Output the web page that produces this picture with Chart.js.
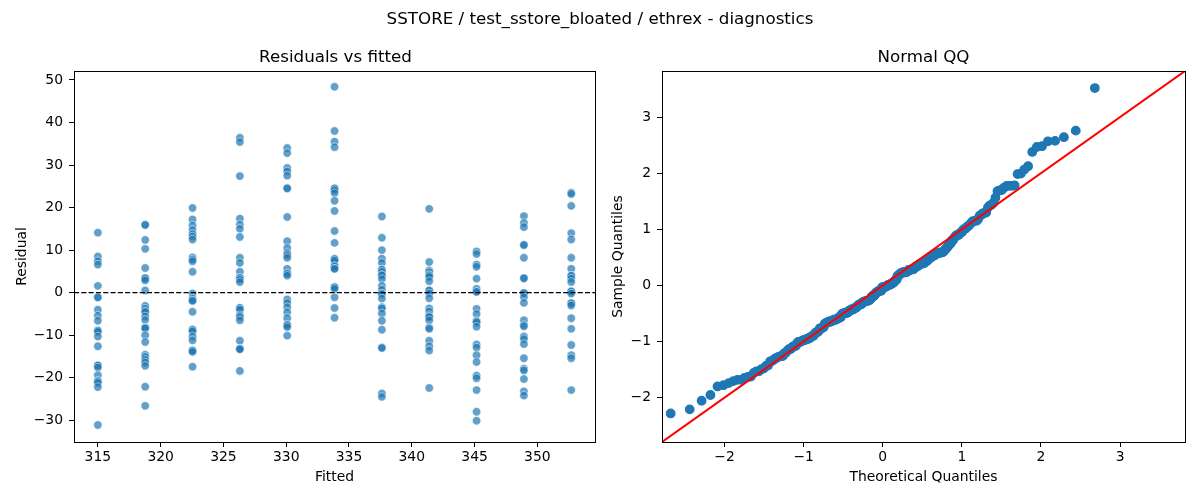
<!DOCTYPE html>
<html>
<head>
<meta charset="utf-8">
<title>SSTORE / test_sstore_bloated / ethrex - diagnostics</title>
<script src="https://cdn.jsdelivr.net/npm/chart.js@4.4.1/dist/chart.umd.min.js"></script>
<style>
  body { margin: 0; background: #fff; }
  #fig { position: relative; width: 1200px; height: 500px; overflow: hidden; font-family: "DejaVu Sans", sans-serif; }
  #fig canvas { position: absolute; top: 0; width: 600px; height: 500px; }
  .txt { position: absolute; color: #000; white-space: nowrap; transform: translate(-50%, -50%); font-size: 16.7px; }
</style>
</head>
<body>
<div id="fig">
  <canvas id="resid" width="600" height="500" style="left:0"></canvas>
  <canvas id="qq" width="600" height="500" style="left:600px"></canvas>
  <div class="txt" style="left:600px; top:18px">SSTORE / test_sstore_bloated / ethrex - diagnostics</div>
  <div class="txt" style="left:335.5px; top:56px">Residuals vs fitted</div>
  <div class="txt" style="left:923.5px; top:56px">Normal QQ</div>
</div>
<script>
// fitted value of each column of points
const fittedValues = [315.0, 318.77, 322.54, 326.31, 330.08, 333.85, 337.62, 341.39, 345.16, 348.93, 352.7];

// residuals, one list per fitted value
// (repeated values = markers that sit on top of each other)
const residualGroups = [
    [14.1, 8.5, 7.4, 6.6, 1.6, -1.1, -1.1, -4.0, -5.4, -6.6, -8.9, -8.9, -9.2, -10.3, -12.6, -17.1, -17.1, -17.6, -19.4, -20.8, -20.8, -21.2, -22.2, -31.1],
    [16.0, 15.9, 12.4, 10.3, 5.8, 3.4, 3.4, 2.9, 0.5, -3.1, -3.8, -4.5, -4.5, -5.6, -6.4, -8.2, -8.2, -8.4, -10.0, -11.6, -14.6, -15.1, -15.8, -16.4, -17.2, -22.1, -26.6],
    [19.9, 17.2, 15.8, 14.7, 13.8, 13.2, 12.5, 8.3, 7.8, 7.4, 4.9, -0.2, -1.4, -1.9, -1.9, -4.5, -8.7, -8.7, -9.1, -10.3, -11.2, -13.6, -13.6, -13.9, -17.4],
    [36.4, 35.4, 27.4, 17.4, 16.0, 15.0, 13.1, 8.2, 7.0, 4.9, 3.5, 3.5, 3.1, 2.5, -3.6, -3.6, -4.0, -5.3, -5.7, -6.5, -11.3, -13.2, -13.2, -13.3, -18.4],
    [34.0, 32.8, 29.3, 28.5, 27.5, 24.6, 24.5, 17.8, 12.1, 10.5, 9.3, 8.8, 8.2, 5.6, 4.5, 4.5, 4.0, -1.6, -2.4, -3.4, -4.6, -6.0, -7.6, -7.6, -8.1, -10.1],
    [48.4, 38.0, 35.5, 34.2, 24.5, 24.5, 24.1, 23.4, 21.6, 19.2, 14.5, 11.7, 7.9, 7.9, 7.5, 6.2, 6.2, 5.6, 5.6, 1.3, 1.3, 0.9, -1.1, -3.6, -5.9],
    [17.9, 12.9, 10.0, 8.0, 7.0, 5.4, 5.4, 4.9, 4.1, 4.1, 3.2, 1.6, 0.7, -0.3, -0.3, -1.4, -3.4, -3.7, -4.9, -6.6, -8.7, -12.9, -13.0, -23.7, -24.5],
    [19.7, 7.2, 5.2, 4.8, 4.1, 4.1, 3.7, 2.7, 0.5, 0.5, -0.2, -1.3, -3.7, -4.4, -5.3, -5.7, -5.7, -6.5, -8.2, -8.5, -11.3, -12.6, -13.6, -22.4],
    [9.7, 9.1, 6.6, 6.1, 3.3, 0.9, 0.2, 0.2, -3.8, -5.0, -6.7, -6.7, -7.0, -8.0, -12.2, -12.9, -14.7, -16.3, -19.5, -20.1, -22.9, -28.0, -30.1],
    [18.0, 16.4, 15.4, 11.2, 11.2, 8.2, 3.4, 3.4, -0.1, -0.1, -1.1, -2.4, -6.5, -7.6, -7.9, -10.3, -10.9, -12.1, -15.4, -17.9, -18.3, -20.3, -23.2, -24.2],
    [23.5, 23.2, 20.4, 14.0, 12.5, 8.2, 5.6, 4.0, 4.0, 3.3, 2.5, 0.3, 0.3, -0.2, -2.5, -2.5, -3.0, -6.0, -8.5, -12.3, -14.7, -15.4, -22.9]
];

const residXTicks = [315, 320, 325, 330, 335, 340, 345, 350];
const residYTicks = [-30, -20, -10, 0, 10, 20, 30, 40, 50];
const qqTicks = [-2, -1, 0, 1, 2, 3];

const BLUE = '#1f77b4';
const FONT = "'DejaVu Sans', sans-serif";

Chart.defaults.font.family = FONT;
Chart.defaults.font.size = 13.9;
Chart.defaults.color = '#000';

// matplotlib style: box around the axes
const framePlugin = {
    id: 'frame',
    afterDraw(chart) {
        const { ctx, chartArea: a } = chart;
        ctx.save();
        ctx.strokeStyle = '#000';
        ctx.lineWidth = 1;
        ctx.strokeRect(Math.round(a.left) + 0.5, Math.round(a.top) + 0.5,
            Math.round(a.right - a.left), Math.round(a.bottom - a.top));
        ctx.restore();
    }
};

const minus = (v) => String(v).replace('-', '\u2212');

// Acklam approximation of the inverse normal CDF
function normInv(p) {
    const a = [-3.969683028665376e+01, 2.209460984245205e+02, -2.759285104469687e+02, 1.383577518672690e+02, -3.066479806614716e+01, 2.506628277459239e+00];
    const b = [-5.447609879822406e+01, 1.615858368580409e+02, -1.556989798598866e+02, 6.680131188771972e+01, -1.328068155288572e+01];
    const c = [-7.784894002430293e-03, -3.223964580411365e-01, -2.400758277161838e+00, -2.549732539343734e+00, 4.374664141464968e+00, 2.938163982698783e+00];
    const d = [7.784695709041462e-03, 3.224671290700398e-01, 2.445134137142996e+00, 3.754408661907416e+00];
    const pLow = 0.02425;
    if (p < pLow) {
        const q = Math.sqrt(-2 * Math.log(p));
        return (((((c[0] * q + c[1]) * q + c[2]) * q + c[3]) * q + c[4]) * q + c[5]) /
            ((((d[0] * q + d[1]) * q + d[2]) * q + d[3]) * q + 1);
    }
    if (p > 1 - pLow) return -normInv(1 - p);
    const q = p - 0.5, r = q * q;
    return (((((a[0] * r + a[1]) * r + a[2]) * r + a[3]) * r + a[4]) * r + a[5]) * q /
        (((((b[0] * r + b[1]) * r + b[2]) * r + b[3]) * r + b[4]) * r + 1);
}

function axis(opts) {
    return {
        type: 'linear',
        min: opts.min,
        max: opts.max,
        afterBuildTicks: (s) => { s.ticks = opts.ticks.map(v => ({ value: v })); },
        afterFit: (s) => {
            // fixed axis boxes so the plot area lands where matplotlib put it
            if (s.isHorizontal()) s.height = 58; else s.width = opts.width;
            s.paddingLeft = s.paddingRight = s.paddingTop = s.paddingBottom = 0;
        },
        grid: { drawOnChartArea: false, drawTicks: true, tickLength: 5, color: '#000', lineWidth: 1 },
        border: { display: false },
        ticks: { padding: opts.pad, callback: minus, font: { size: 13.9 }, color: '#000', maxRotation: 0 },
        title: {
            display: true, text: opts.title, color: '#000',
            font: { size: 13.9 }, padding: { top: opts.titlePad, bottom: opts.titlePad }
        }
    };
}

// ---- residuals vs fitted ----
const residPoints = [];
residualGroups.forEach((group, i) => {
    group.forEach(r => residPoints.push({ x: fittedValues[i], y: r }));
});

const residXMin = 313.1, residXMax = 354.6;

new Chart(document.getElementById('resid'), {
    type: 'scatter',
    data: {
        datasets: [
            {
                data: [{ x: residXMin, y: 0 }, { x: residXMax, y: 0 }],
                showLine: true,
                borderColor: '#000',
                borderWidth: 1.3,
                borderDash: [5.1, 2.2],
                pointRadius: 0
            },
            {
                data: residPoints,
                backgroundColor: 'rgba(31, 119, 180, 0.7)',
                borderColor: 'rgba(255, 255, 255, 0.7)',
                borderWidth: 0.7,
                pointRadius: 4.2
            }
        ]
    },
    options: {
        responsive: false,
        animation: false,
        devicePixelRatio: 1,
        layout: { padding: { top: 71, right: 3, left: 0, bottom: 0 } },
        plugins: { legend: { display: false }, tooltip: { enabled: false } },
        scales: {
            x: axis({ min: residXMin, max: residXMax, ticks: residXTicks, title: 'Fitted', pad: 2.5, titlePad: 14.6 }),
            y: axis({ min: -35.1, max: 52.1, ticks: residYTicks, title: 'Residual', pad: 6, width: 74, titlePad: 13.7 })
        }
    },
    plugins: [framePlugin]
});

// ---- normal QQ (standardised sorted residuals vs normal quantiles) ----
const allResiduals = residPoints.map(p => p.y).sort((a, b) => a - b);
const n = allResiduals.length;
const mean = allResiduals.reduce((s, v) => s + v, 0) / n;
const sd = Math.sqrt(allResiduals.reduce((s, v) => s + (v - mean) ** 2, 0) / n);
const qqPoints = allResiduals.map((v, i) => ({
    x: normInv((i + 1) / (n + 1)),
    y: (v - mean) / sd
}));

const qqMin = -2.79, qqMax = 3.82;

new Chart(document.getElementById('qq'), {
    type: 'scatter',
    data: {
        datasets: [
            {
                data: [{ x: qqMin, y: qqMin }, { x: qqMax, y: qqMax }],
                showLine: true,
                borderColor: '#ff0000',
                borderWidth: 2,
                pointRadius: 0
            },
            {
                data: qqPoints,
                backgroundColor: BLUE,
                borderColor: BLUE,
                borderWidth: 1.4,
                pointRadius: 4.2
            }
        ]
    },
    options: {
        responsive: false,
        animation: false,
        devicePixelRatio: 1,
        layout: { padding: { top: 71, right: 15, left: 0, bottom: 0 } },
        plugins: { legend: { display: false }, tooltip: { enabled: false } },
        scales: {
            x: axis({ min: qqMin, max: qqMax, ticks: qqTicks, title: 'Theoretical Quantiles', pad: 2.5, titlePad: 14.6 }),
            y: axis({ min: qqMin, max: qqMax, ticks: qqTicks, title: 'Sample Quantiles', pad: 6, width: 62, titlePad: 9.7 })
        }
    },
    plugins: [framePlugin]
});
</script>
</body>
</html>
